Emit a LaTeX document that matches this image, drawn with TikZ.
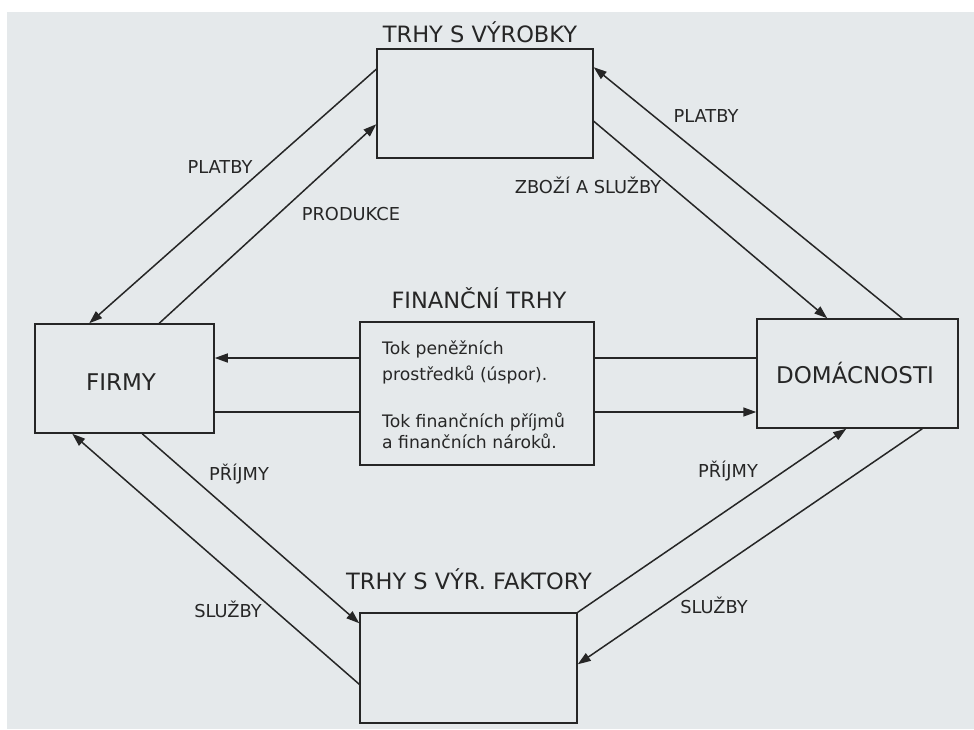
\documentclass[tikz,border=0pt]{standalone}
\usepackage{fontspec}
\setmainfont{DejaVu Sans}
\usetikzlibrary{arrows.meta}
\definecolor{paper}{HTML}{E5E9EB}
\definecolor{ink}{HTML}{262626}
\tikzset{
  box/.style={draw=ink, line width=1.5pt, inner sep=0pt, fill=none},
  conn/.style={draw=ink, line width=1.5pt},
  arr/.style={conn, -{Triangle[length=13pt,width=9pt]}},
  title/.style={anchor=base, inner sep=0pt, text=ink, font=\fontsize{22.5}{26}\selectfont},
  boxtext/.style={anchor=base, inner sep=0pt, text=ink, font=\fontsize{23}{26}\selectfont},
  lab/.style={anchor=base, inner sep=0pt, text=ink, font=\fontsize{17.8}{20}\selectfont},
  fintext/.style={anchor=base west, inner sep=0pt, text=ink, font=\fontsize{17.2}{20}\selectfont}
}
\begin{document}
\begin{tikzpicture}[x=1pt,y=-1pt]
\useasboundingbox (0,0) rectangle (974,729);
\fill[white] (0,0) rectangle (974,729);
\fill[paper] (7,12) rectangle (974,729);

% boxes
\node[box, minimum width=216pt, minimum height=109pt] (vyr) at (485,103.5) {};
\node[box, minimum width=234pt, minimum height=143pt] (fin) at (477,393.5) {};
\node[box, minimum width=179pt, minimum height=109pt] (firmy) at (124.5,378.5) {};
\node[box, minimum width=201pt, minimum height=109pt] (dom) at (857.5,373.5) {};
\node[box, minimum width=217pt, minimum height=110pt] (fak) at (468.5,668) {};

% titles and box texts
\node[title] (tvyr) at (480,42) {TRHY S VÝROBKY};
\node[title] (tfin) at (479,308) {FINANČNÍ TRHY};
\node[title] (tfak) at (469,589) {TRHY S VÝR. FAKTORY};
\node[boxtext] (lfirmy) at (121,390) {FIRMY};
\node[boxtext] (ldom) at (855,383) {DOMÁCNOSTI};

\node[fintext] (f1) at (382,354) {Tok peněžních};
\node[fintext] (f2) at (382,380) {prostředků (úspor).};
\node[fintext] (f3) at (382,427) {Tok finančních příjmů};
\node[fintext] (f4) at (382,448) {a finančních nároků.};

% diagonal connectors
\draw[arr] ([yshift=-21pt]vyr.north west) -- ([xshift=55pt]firmy.north west);
\draw[arr] ([xshift=125pt]firmy.north west) -- ([yshift=-76pt]vyr.north west);
\draw[arr] ([xshift=146pt]dom.north west) -- ([yshift=-19pt]vyr.north east);
\draw[arr] ([yshift=-73pt]vyr.north east) -- ([xshift=71pt]dom.north west);
\draw[arr] ([yshift=-72pt]fak.north west) -- ([xshift=38pt]firmy.south west);
\draw[arr] ([xshift=108pt]firmy.south west) -- ([yshift=-11pt]fak.north west);
\draw[arr] (fak.north east) -- ([xshift=90pt]dom.south west);
\draw[arr] ([xshift=166pt]dom.south west) -- ([yshift=-52pt]fak.north east);

% horizontal connectors
\coordinate (h1) at (0,358);
\coordinate (h2) at (0,412);
\draw[conn] (dom.west |- h1) -- (fin.east |- h1);
\draw[arr] (fin.west |- h1) -- (firmy.east |- h1);
\draw[conn] (firmy.east |- h2) -- (fin.west |- h2);
\draw[arr] (fin.east |- h2) -- (dom.west |- h2);

% connector labels
\node[lab] (l1) at (220,173) {PLATBY};
\node[lab] (l2) at (351,220) {PRODUKCE};
\node[lab] (l3) at (706,122) {PLATBY};
\node[lab] (l4) at (588,193) {ZBOŽÍ A SLUŽBY};
\node[lab] (l5) at (239,480) {PŘÍJMY};
\node[lab] (l6) at (228,617) {SLUŽBY};
\node[lab] (l7) at (728,477) {PŘÍJMY};
\node[lab] (l8) at (714,613) {SLUŽBY};
\end{tikzpicture}
\end{document}
